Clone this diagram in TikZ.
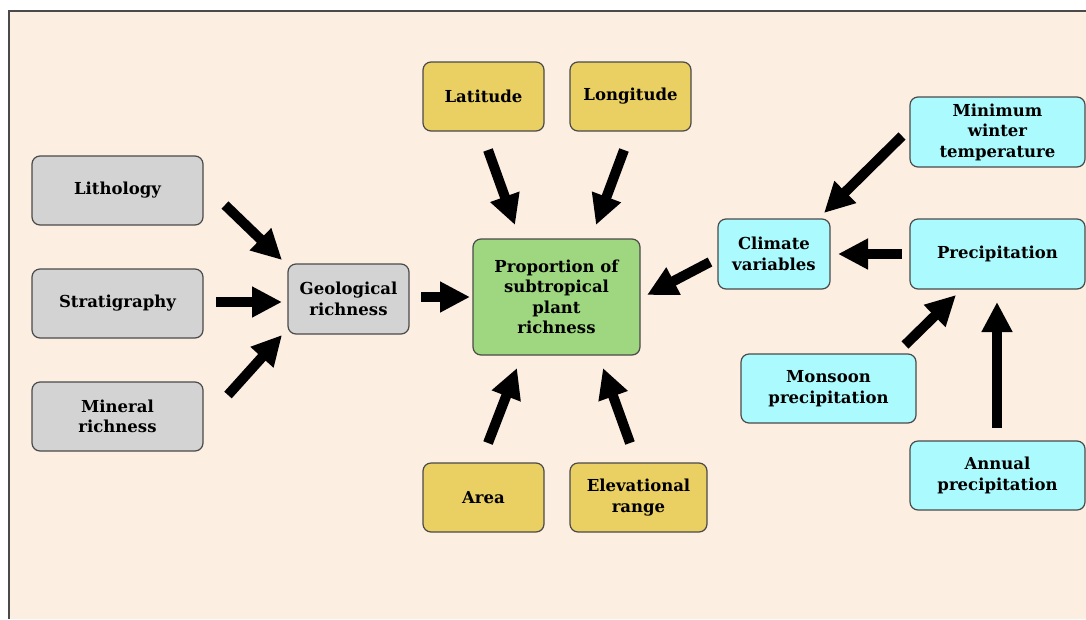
\documentclass[tikz,border=0pt]{standalone}
\usepackage{fontspec}
\setmainfont{DejaVu Serif}
\usetikzlibrary{arrows.meta}
\definecolor{bgpeach}{HTML}{FDEEE2}
\definecolor{boxgray}{HTML}{D3D3D3}
\definecolor{boxgreen}{HTML}{9FD680}
\definecolor{boxgold}{HTML}{EACF62}
\definecolor{boxcyan}{HTML}{ABFAFE}
\definecolor{edgegray}{HTML}{4A4A4A}
\tikzset{
  box/.style={draw=edgegray, line width=1.2pt, rounded corners=8pt, align=center,
    inner sep=0pt, font=\bfseries\fontsize{16.5}{20.5}\selectfont},
  graybox/.style={box, fill=boxgray},
  greenbox/.style={box, fill=boxgreen},
  goldbox/.style={box, fill=boxgold},
  cyanbox/.style={box, fill=boxcyan},
  bigarrow/.style={line width=10pt, -{Triangle[length=30pt,width=29pt]}}
}
\begin{document}
\begin{tikzpicture}[x=1pt,y=-1pt]
\useasboundingbox (0,0) rectangle (1086,619);
\fill[white] (0,0) rectangle (1086,619);
\fill[bgpeach] (9,11) rectangle (1086,619);
\draw[edgegray, line width=1.5pt] (9,619) -- (9,11) -- (1086,11);

% left column
\node[graybox, minimum width=171pt, minimum height=69pt] (lith) at (117.5,190.5) {Lithology};
\node[graybox, minimum width=171pt, minimum height=69pt] (strat) at (117.5,303.5) {Stratigraphy};
\node[graybox, minimum width=171pt, minimum height=69pt] (miner) at (117.5,416.5) {Mineral\\richness};
\node[graybox, minimum width=121pt, minimum height=70pt] (geo) at (348.5,299) {Geological\\richness};

% centre
\node[greenbox, minimum width=167pt, minimum height=116pt] (prop) at (556.5,297) {Proportion of\\subtropical\\plant\\richness};
\node[goldbox, minimum width=121pt, minimum height=69pt] (lat) at (483.5,96.5) {Latitude};
\node[goldbox, minimum width=121pt, minimum height=69pt] (lon) at (630.5,96.5) {Longitude};
\node[goldbox, minimum width=121pt, minimum height=69pt] (area) at (483.5,497.5) {Area};
\node[goldbox, minimum width=137pt, minimum height=69pt] (elev) at (638.5,497.5) {Elevational\\range};

% right
\node[cyanbox, minimum width=112pt, minimum height=70pt] (clim) at (774,254) {Climate\\variables};
\node[cyanbox, minimum width=175pt, minimum height=70pt] (minw) at (997.5,132) {Minimum\\winter\\temperature};
\node[cyanbox, minimum width=175pt, minimum height=70pt] (prec) at (997.5,254) {Precipitation};
\node[cyanbox, minimum width=175pt, minimum height=69pt] (mons) at (828.5,388.5) {Monsoon\\precipitation};
\node[cyanbox, minimum width=175pt, minimum height=69pt] (annu) at (997.5,475.5) {Annual\\precipitation};

% arrow end points
\coordinate (lithA) at (225,205);   \coordinate (lithB) at (282,260);
\coordinate (stratA) at (216,302);  \coordinate (stratB) at (282,302);
\coordinate (minerA) at (228,395);  \coordinate (minerB) at (282,335);
\coordinate (geoA) at (421,297);    \coordinate (geoB) at (470,297);
\coordinate (latA) at (488,150);    \coordinate (latB) at (515,225);
\coordinate (lonA) at (624,150);    \coordinate (lonB) at (596,225);
\coordinate (areaA) at (488,443);   \coordinate (areaB) at (517,368);
\coordinate (elevA) at (630,443);   \coordinate (elevB) at (603,368);
\coordinate (climA) at (710,262);   \coordinate (climB) at (647,295);
\coordinate (minwA) at (902,136);   \coordinate (minwB) at (824,213);
\coordinate (precA) at (902,254);   \coordinate (precB) at (838,254);
\coordinate (monsA) at (905,345);   \coordinate (monsB) at (956,295);
\coordinate (annuA) at (997,428);   \coordinate (annuB) at (997,302);

\foreach \n in {lith,strat,miner,geo,lat,lon,area,elev,clim,minw,prec,mons,annu}
  \draw[bigarrow] (\n A) -- (\n B);
\end{tikzpicture}
\end{document}
